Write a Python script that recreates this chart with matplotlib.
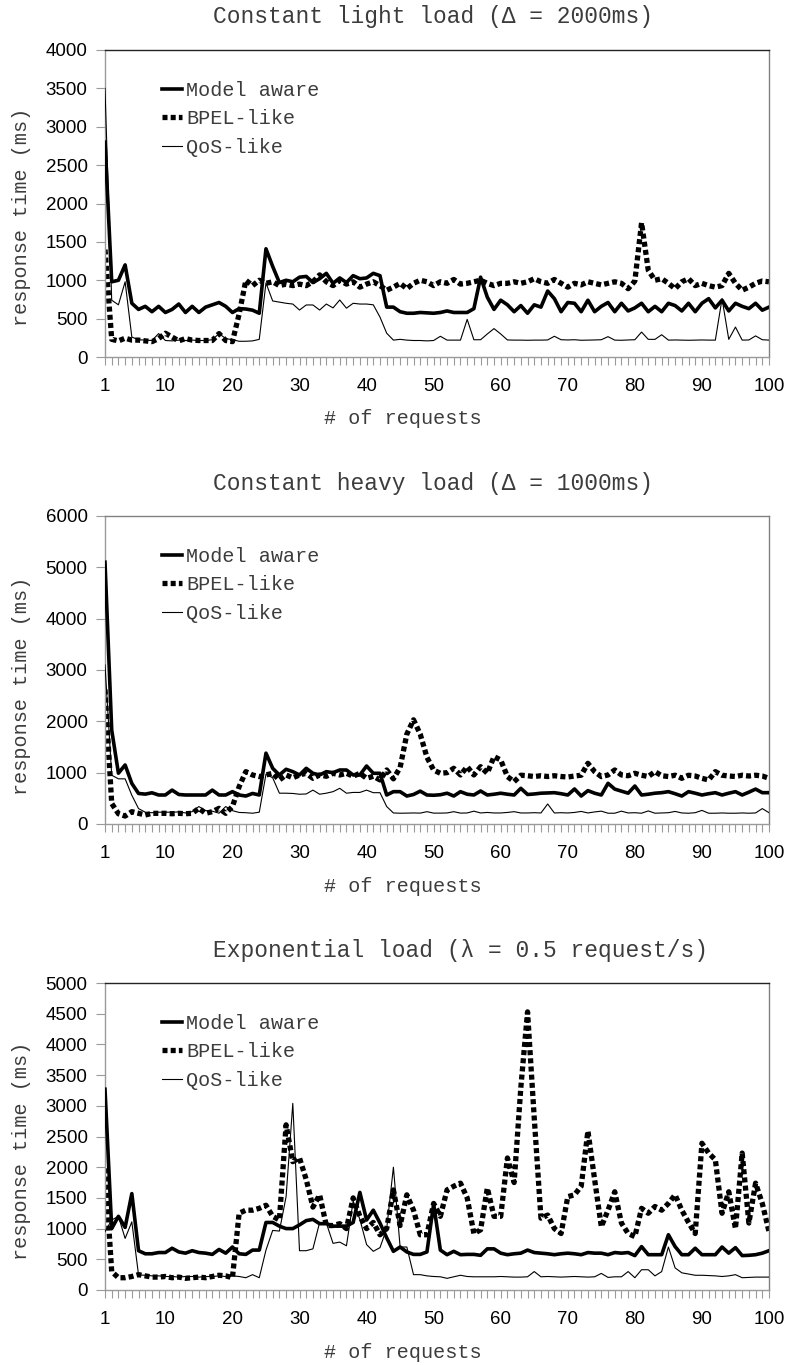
import matplotlib
matplotlib.use("Agg")
import matplotlib.pyplot as plt

# ---------------------------------------------------------------- data
requests = list(range(1, 101))
series_names = ["Model aware", "BPEL-like", "QoS-like"]
x_tick_values = [1, 10, 20, 30, 40, 50, 60, 70, 80, 90, 100]

titles = [
    "Constant light load (\u0394 = 2000ms)",
    "Constant heavy load (\u0394 = 1000ms)",
    "Exponential load (\u03bb = 0.5 request/s)",
]
y_max = [4000, 6000, 5000]
y_step = [500, 1000, 500]

light_model = [
    2800, 980, 1000, 1200, 700, 620, 660, 590, 660, 580,
    620, 690, 580, 660, 580, 650, 680, 710, 660, 580,
    630, 625, 610, 570, 1410, 1180, 970, 1000, 980, 1040,
    1050, 970, 1020, 1090, 960, 1030, 970, 1060, 1020, 1030,
    1090, 1060, 650, 650, 590, 570, 570, 580, 575, 570,
    580, 600, 580, 580, 580, 630, 1040, 780, 620, 740,
    680, 590, 670, 570, 680, 650, 860, 760, 590, 710,
    700, 590, 740, 590, 660, 710, 590, 700, 600, 640,
    700, 590, 660, 590, 700, 670, 600, 700, 590, 700,
    760, 640, 740, 600, 700, 660, 630, 700, 610, 650,
]
light_bpel = [
    1400, 230, 210, 245, 220, 220, 210, 200, 240, 310,
    260, 210, 240, 220, 215, 215, 215, 305, 215, 200,
    560, 1000, 930, 1000, 960, 980, 930, 950, 930, 950,
    930, 980, 1070, 980, 930, 1000, 950, 980, 910, 950,
    980, 930, 870, 910, 960, 890, 960, 1000, 980, 930,
    980, 960, 1010, 950, 960, 980, 1000, 960, 930, 960,
    960, 980, 960, 980, 1020, 980, 960, 1010, 960, 910,
    960, 940, 980, 960, 940, 960, 980, 960, 890, 990,
    1750, 1130, 1000, 1020, 960, 890, 980, 1020, 930, 960,
    930, 910, 930, 1090, 960, 870, 910, 960, 990, 980,
]
light_qos = [
    3500, 740, 680, 980, 260, 225, 220, 215, 305, 215,
    210, 220, 215, 220, 215, 215, 225, 305, 240, 225,
    205, 205, 210, 230, 965, 730, 715, 700, 690, 612,
    678, 678, 612, 690, 640, 743, 636, 700, 690, 690,
    680, 520, 310, 220, 230, 220, 215, 215, 210, 215,
    270, 220, 220, 220, 490, 225, 225, 300, 370, 300,
    222, 220, 220, 218, 220, 220, 222, 270, 225, 222,
    225, 218, 220, 222, 225, 265, 220, 218, 222, 225,
    325, 230, 230, 290, 220, 222, 220, 218, 220, 222,
    220, 220, 760, 230, 390, 220, 222, 275, 225, 220,
]

heavy_model = [
    5100, 1830, 990, 1150, 790, 595, 582, 608, 565, 565,
    660, 575, 565, 565, 565, 565, 660, 565, 565, 630,
    565, 545, 595, 565, 1380, 1085, 955, 1066, 1020, 955,
    1085, 988, 955, 1020, 1000, 1052, 1052, 955, 955, 1130,
    988, 988, 565, 630, 630, 545, 575, 640, 565, 560,
    570, 600, 545, 630, 580, 565, 643, 565, 580, 600,
    580, 565, 695, 575, 585, 600, 605, 610, 590, 565,
    682, 545, 650, 600, 565, 793, 680, 640, 600, 740,
    565, 580, 600, 610, 630, 590, 545, 630, 600, 565,
    590, 610, 565, 600, 630, 565, 620, 680, 610, 610,
]
heavy_bpel = [
    2620, 400, 200, 155, 240, 208, 175, 208, 208, 208,
    200, 208, 200, 208, 305, 208, 240, 305, 208, 340,
    728, 1020, 955, 923, 955, 988, 858, 955, 900, 955,
    988, 890, 955, 930, 988, 955, 988, 930, 988, 890,
    930, 858, 1052, 880, 1100, 1750, 2030, 1750, 1300, 1050,
    988, 1000, 1085, 955, 1117, 955, 1117, 988, 1313, 1247,
    923, 825, 950, 940, 925, 940, 925, 940, 925, 915,
    935, 950, 1182, 1020, 923, 955, 1052, 955, 940, 988,
    950, 925, 1020, 940, 925, 950, 890, 950, 935, 890,
    858, 1020, 950, 935, 925, 950, 935, 950, 935, 890,
]
heavy_qos = [
    3100, 950, 880, 880, 560, 300, 230, 220, 230, 230,
    230, 235, 215, 240, 340, 260, 250, 210, 340, 260,
    225, 220, 210, 230, 970, 900, 600, 600, 595, 580,
    585, 660, 580, 600, 630, 695, 600, 615, 615, 660,
    610, 610, 340, 215, 210, 212, 215, 212, 240, 212,
    212, 215, 240, 212, 215, 250, 215, 225, 215, 215,
    225, 240, 215, 215, 220, 215, 390, 215, 220, 215,
    225, 245, 215, 235, 250, 210, 210, 250, 215, 220,
    210, 255, 210, 215, 220, 245, 215, 210, 220, 265,
    210, 210, 215, 210, 210, 215, 210, 215, 300, 220,
]

exp_model = [
    3270, 1000, 1200, 1020, 1570, 640, 590, 590, 610, 610,
    680, 620, 600, 640, 610, 600, 580, 660, 600, 700,
    590, 580, 650, 650, 1100, 1100, 1040, 1000, 1000, 1060,
    1130, 1150, 1080, 1080, 1040, 1040, 1040, 1100, 1590, 1140,
    1300, 1090, 850, 630, 700, 620, 580, 580, 620, 1400,
    650, 575, 630, 575, 580, 580, 565, 670, 670, 600,
    575, 590, 600, 650, 610, 600, 590, 575, 590, 600,
    590, 575, 610, 600, 600, 575, 610, 600, 610, 560,
    707, 575, 575, 575, 900, 707, 575, 575, 680, 575,
    575, 575, 700, 600, 690, 560, 565, 575, 600, 640,
]
exp_bpel = [
    1980, 300, 200, 200, 220, 250, 230, 210, 210, 220,
    200, 210, 190, 200, 210, 200, 220, 240, 230, 200,
    1250, 1300, 1300, 1330, 1380, 1200, 1140, 2690, 2090, 2150,
    1800, 1350, 1550, 1050, 1050, 1080, 1000, 1500, 1200, 1000,
    1100, 900, 1000, 1630, 1050, 1550, 1300, 900, 900, 1410,
    1200, 1630, 1690, 1740, 1500, 920, 980, 1660, 1200, 1200,
    2150, 1750, 3300, 4530, 2800, 1170, 1220, 1000, 920, 1520,
    1550, 1690, 2590, 1800, 1030, 1300, 1600, 1090, 920, 870,
    1330, 1250, 1360, 1300, 1410, 1550, 1300, 1100, 920, 2390,
    2230, 2120, 1250, 1600, 1000, 2230, 1090, 1740, 1410, 950,
]
exp_qos = [
    950, 1140, 1200, 840, 1110, 245, 240, 230, 230, 220,
    220, 210, 220, 220, 210, 220, 220, 230, 220, 230,
    220, 200, 250, 200, 650, 970, 960, 1520, 3040, 640,
    640, 670, 1100, 1090, 760, 780, 720, 1450, 1150, 740,
    630, 690, 1000, 2000, 700, 700, 250, 250, 230, 220,
    215, 190, 215, 240, 220, 215, 215, 215, 215, 220,
    215, 210, 210, 215, 300, 215, 220, 215, 210, 215,
    220, 215, 210, 215, 270, 205, 215, 215, 300, 200,
    330, 330, 230, 300, 700, 360, 280, 260, 240, 240,
    235, 230, 220, 230, 250, 200, 205, 210, 210, 210,
]

panel_series = [
    (light_model, light_bpel, light_qos),
    (heavy_model, heavy_bpel, heavy_qos),
    (exp_model, exp_bpel, exp_qos),
]

# ---------------------------------------------------------------- layout
W, H = 790, 1365
fig = plt.figure(figsize=(W / 100, H / 100), dpi=100)
fig.patch.set_facecolor("white")

MONO = ["Liberation Mono", "DejaVu Sans Mono"]
SANS = ["Liberation Sans", "DejaVu Sans"]
TEXT_COLOR = "#3c3c3c"
TICK_GRAY = "#9a9a9a"

# pixel boxes: (left, top, right, bottom)
boxes = [(105, 50, 769, 357), (105, 516, 769, 824), (105, 983, 769, 1290)]
title_y = [17, 483, 950]
xlabel_y = [418, 886, 1352]
ylabel_y = [217, 686, 1151]
top_spine = ["#222222", "#808080", "#222222"]


def fx(px):
    return px / W


def fy(py):
    return 1 - py / H


for i in range(3):
    left, top, right, bottom = boxes[i]
    ax = fig.add_axes([fx(left), fy(bottom), (right - left) / W, (bottom - top) / H])
    model, bpel, qos = panel_series[i]

    ax.plot(requests, model, color="black", lw=2.6, label=series_names[0],
            solid_joinstyle="round", zorder=3)
    ax.plot(requests, bpel, color="black", lw=3.8, linestyle=(0, (0.95, 0.6)),
            dash_capstyle="butt", label=series_names[1], zorder=2)
    ax.plot(requests, qos, color="black", lw=0.8, label=series_names[2], zorder=4)

    ax.set_xlim(1, 100)
    ax.set_ylim(0, y_max[i])

    ax.set_xticks(requests)
    ax.set_xticklabels([str(r) if r in x_tick_values else "" for r in requests],
                       fontfamily=SANS, fontsize=13.5)
    yt = list(range(0, y_max[i] + 1, y_step[i]))
    ax.set_yticks(yt)
    ax.set_yticklabels([str(v) for v in yt], fontfamily=SANS, fontsize=13.5)

    ax.tick_params(axis="x", direction="out", length=6, width=0.8,
                   color=TICK_GRAY, pad=9, labelcolor="black")
    ax.tick_params(axis="y", direction="out", length=6.5, width=0.8,
                   color=TICK_GRAY, pad=6, labelcolor="black")

    for side in ("left", "bottom"):
        ax.spines[side].set_color(TICK_GRAY)
        ax.spines[side].set_linewidth(1.0)
    ax.spines["right"].set_color("#808080")
    ax.spines["right"].set_linewidth(1.0)
    ax.spines["top"].set_color(top_spine[i])
    ax.spines["top"].set_linewidth(1.0)

    leg = ax.legend(loc="upper left", bbox_to_anchor=(0.086, 0.9),
                    frameon=False, borderpad=0, borderaxespad=0,
                    handlelength=1.0, handletextpad=0.2, labelspacing=0.48,
                    prop={"family": MONO, "size": 14.5})
    for t in leg.get_texts():
        t.set_color(TEXT_COLOR)

    fig.text(fx(213), fy(title_y[i]), titles[i], ha="left", va="center",
             fontsize=16.5, family=MONO, color=TEXT_COLOR)
    fig.text(fx(403), fy(xlabel_y[i]), "# of requests", ha="center", va="center",
             fontsize=14.5, family=MONO, color=TEXT_COLOR)
    fig.text(fx(22), fy(ylabel_y[i]), "response time (ms)", ha="center", va="center",
             rotation=90, fontsize=14.5, family=MONO, color=TEXT_COLOR)

fig.savefig("out.png", dpi=100, facecolor="white")
